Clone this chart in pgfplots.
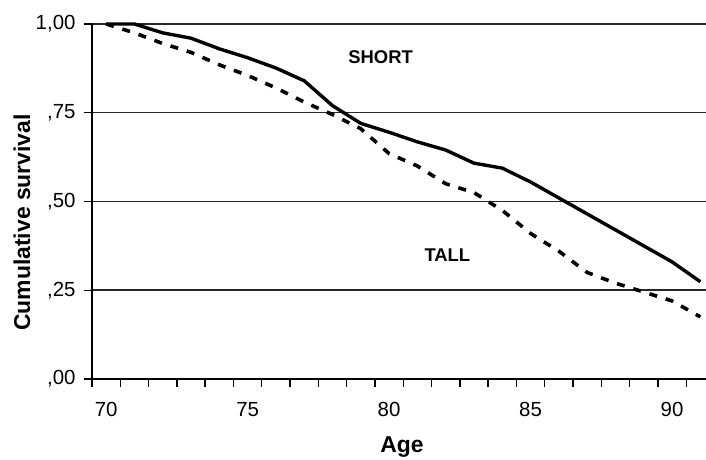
\documentclass[border=0pt]{standalone}
\usepackage{pgfplots}
\pgfplotsset{compat=1.18}
\usepackage{fontspec}
\setmainfont{Liberation Sans}
\begin{document}
\begin{tikzpicture}
\begin{axis}[
  name=ax,
  scale only axis,
  width=614bp, height=355bp,
  xmin=69.5, xmax=91.2, ymin=0, ymax=1,
  clip=false,
  axis x line*=bottom, axis y line*=left,
  axis line style={line width=1.8bp, black},
  tick align=outside,
  major tick length=8bp,
  tick style={line width=1.4bp, black},
  xtick={69.5,70.5,...,90.5},
  xticklabels={,,,,,,,,,,,,,,,,,,,,,},
  extra x ticks={70,75,80,85,90},
  extra x tick labels={70,75,80,85,90},
  extra x tick style={major tick length=0pt},
  xticklabel style={yshift=-20bp},
  ytick={0,0.25,0.5,0.75,1},
  yticklabels={{,00},{,25},{,50},{,75},{1,00}},
  yticklabel style={xshift=-5bp},
  tick label style={font=\fontsize{20.5}{23}\selectfont},
  ymajorgrids,
  major grid style={line width=1.5bp, black!85},
]
\addplot[black, line width=3.4bp] coordinates {
(70,1.00) (71,1.00) (72,0.975) (73,0.96) (74,0.93) (75,0.905) (76,0.876)
(77,0.84) (78,0.77) (79,0.72) (80,0.695) (81,0.668) (82,0.645) (83,0.608)
(84,0.594) (85,0.555) (86,0.51) (87,0.465) (88,0.42) (89,0.375) (90,0.33) (91,0.274)
};
\addplot[black, line width=3.6bp, dash pattern=on 8bp off 9bp] coordinates {
(70,1.00) (71,0.975) (72,0.945) (73,0.92) (74,0.885) (75,0.855) (76,0.82)
(77,0.78) (78,0.745) (79,0.705) (80,0.635) (81,0.60) (82,0.55) (83,0.525)
(84,0.475) (85,0.41) (86,0.36) (87,0.30) (88,0.27) (89,0.245) (90,0.22) (91,0.175)
};
\node[font=\fontsize{18.5}{22}\selectfont\bfseries] at (axis cs:79.7,0.907) {SHORT};
\node[font=\fontsize{18.5}{22}\selectfont\bfseries] at (axis cs:82.06,0.35) {TALL};
\end{axis}
\node[font=\fontsize{23}{26}\selectfont\bfseries, anchor=base] at ([xshift=3bp,yshift=-73bp]ax.south) {Age};
\node[font=\fontsize{23}{26}\selectfont\bfseries, rotate=90, anchor=base] at ([xshift=-62bp,yshift=-21bp]ax.west) {Cumulative survival};
\pgfresetboundingbox
\path[use as bounding box] ([shift={(-92bp,-81bp)}]ax.south west) rectangle ([shift={(0bp,24bp)}]ax.north east);
\end{tikzpicture}
\end{document}
